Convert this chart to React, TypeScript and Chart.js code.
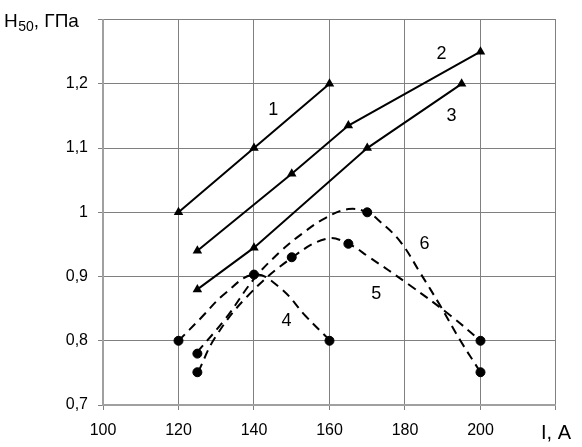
import React, { useEffect, useRef } from 'react';
import { Chart, registerables } from 'chart.js';

Chart.register(...registerables);

const FONT = '"Liberation Sans", Arial, sans-serif';

// Axis ranges / ticks
const xMin = 100;
const xMax = 220;
const xStep = 20;
const yMin = 0.7;
const yMax = 1.3;
const yStep = 0.1;
const xAxisName = 'I, A';
const yAxisMain = 'H';
const yAxisSub = '50';
const yAxisRest = ', ГПа';

// Solid series (triangles)
const line1X = [120, 140, 160];
const line1Y = [1.0, 1.1, 1.2];
const line2X = [125, 150, 165, 200];
const line2Y = [0.94, 1.06, 1.135, 1.25];
const line3X = [125, 140, 170, 195];
const line3Y = [0.88, 0.945, 1.1, 1.2];

// Dashed series: measured points (circles)
const dots4X = [120, 140, 160];
const dots4Y = [0.8, 0.903, 0.8];
const dots5X = [125, 150, 165, 200];
const dots5Y = [0.751, 0.93, 0.951, 0.8];
const dots6X = [125, 170, 200];
const dots6Y = [0.78, 1.0, 0.751];

// Dashed series: smooth curves
const curve4X = [120, 125.7, 132.4, 140.1, 147, 153.6, 160.2];
const curve4Y = [0.8, 0.834, 0.874, 0.903, 0.882, 0.839, 0.8];
const curve5X = [125.2, 129.7, 138.2, 150.2, 159.4, 165, 170.3, 180.9, 192.1, 200];
const curve5Y = [0.751, 0.805, 0.869, 0.93, 0.959, 0.951, 0.931, 0.888, 0.839, 0.8];
const curve6X = [124.9, 132.4, 140.1, 147, 152.8, 158.9, 165, 170, 173.5, 178.8, 184.1, 189.4, 194.7, 200];
const curve6Y = [0.782, 0.834, 0.897, 0.939, 0.967, 0.991, 1.005, 1.0, 0.985, 0.954, 0.905, 0.854, 0.8, 0.751];

// Curve number labels (data coordinates)
const curveNames = ['1', '2', '3', '4', '5', '6'];
const curveNameX = [145.1, 189.7, 192.3, 148.6, 172.4, 185.2];
const curveNameY = [1.159, 1.247, 1.15, 0.831, 0.873, 0.951];

const zip = (xs: number[], ys: number[]) => xs.map((x, i) => ({ x, y: ys[i] }));

const fmtY = (v: number) => {
  const r = Math.round(v * 10) / 10;
  if (Math.abs(r - yMax) < 1e-6) return '';
  return String(r).replace('.', ',');
};

const textPlugin = {
  id: 'textPlugin',
  afterDraw(chart: any) {
    const ctx = chart.ctx;
    const xs = chart.scales.x;
    const ys = chart.scales.y;
    ctx.save();
    ctx.fillStyle = '#000';
    // axis title
    ctx.textAlign = 'left';
    ctx.textBaseline = 'alphabetic';
    ctx.font = `19px ${FONT}`;
    let x = 4;
    ctx.fillText(yAxisMain, x, 27);
    x += ctx.measureText(yAxisMain).width + 0.5;
    ctx.font = `14px ${FONT}`;
    ctx.fillText(yAxisSub, x, 31);
    x += ctx.measureText(yAxisSub).width;
    ctx.font = `19px ${FONT}`;
    ctx.fillText(yAxisRest, x, 27);
    // curve labels
    ctx.textAlign = 'center';
    ctx.textBaseline = 'middle';
    ctx.font = `18px ${FONT}`;
    curveNames.forEach((t, i) => {
      ctx.fillText(t, xs.getPixelForValue(curveNameX[i]), ys.getPixelForValue(curveNameY[i]));
    });
    ctx.restore();
  },
};

export default function App() {
  const ref = useRef<HTMLCanvasElement | null>(null);

  useEffect(() => {
    if (!ref.current) return;
    const tri = (xs: number[], ys: number[]) => ({
      data: zip(xs, ys),
      showLine: true,
      borderColor: '#000',
      backgroundColor: '#000',
      borderWidth: 2,
      pointStyle: 'triangle',
      pointRadius: 5.5,
      pointBorderWidth: 0,
      tension: 0,
    });
    const dots = (xs: number[], ys: number[]) => ({
      data: zip(xs, ys),
      showLine: false,
      borderColor: '#000',
      backgroundColor: '#000',
      pointStyle: 'circle',
      pointRadius: 4.5,
      pointBorderWidth: 1,
    });
    const curve = (xs: number[], ys: number[]) => ({
      data: zip(xs, ys),
      showLine: true,
      borderColor: '#000',
      borderWidth: 2,
      borderDash: [9, 6],
      pointRadius: 0,
      tension: 0.4,
    });

    const chart = new Chart(ref.current, {
      type: 'scatter',
      data: {
        datasets: [
          dots(dots4X, dots4Y),
          dots(dots5X, dots5Y),
          dots(dots6X, dots6Y),
          tri(line1X, line1Y),
          tri(line2X, line2Y),
          tri(line3X, line3Y),
          curve(curve4X, curve4Y),
          curve(curve5X, curve5Y),
          curve(curve6X, curve6Y),
        ] as any,
      },
      options: {
        animation: false,
        responsive: false,
        events: [],
        layout: { padding: { left: 0, right: 26, top: 16, bottom: 0 } },
        plugins: { legend: { display: false }, tooltip: { enabled: false }, title: { display: false } },
        scales: {
          x: {
            type: 'linear',
            min: xMin,
            max: xMax,
            afterFit: (s: any) => { s.height = 42; },
            ticks: {
              stepSize: xStep,
              color: '#000',
              padding: 11,
              font: (c: any) => ({ family: FONT, size: c.tick && c.tick.value === xMax ? 20 : 16 }),
              callback: (v: any) => (v === xMax ? xAxisName : String(v)),
              maxRotation: 0,
              autoSkip: false,
            },
            grid: { color: '#808080', lineWidth: 1, tickLength: 5, tickColor: '#808080' },
            border: { display: true, color: '#a0a0a0', width: 2 },
          },
          y: {
            type: 'linear',
            min: yMin,
            max: yMax,
            afterFit: (s: any) => { s.width = 103; },
            ticks: {
              stepSize: yStep,
              color: '#000',
              padding: 10,
              font: { family: FONT, size: 16 },
              callback: (v: any) => fmtY(Number(v)),
              autoSkip: false,
            },
            grid: { color: '#808080', lineWidth: 1, tickLength: 5, tickColor: '#808080' },
            border: { display: true, color: '#a0a0a0', width: 2 },
          },
        },
      } as any,
      plugins: [textPlugin],
    });
    return () => chart.destroy();
  }, []);

  return (
    <div style={{ position: 'fixed', left: 0, top: 0, width: 582, height: 447, background: '#fff' }}>
      <canvas ref={ref} width={582} height={447} style={{ width: 582, height: 447, display: 'block' }} />
    </div>
  );
}
